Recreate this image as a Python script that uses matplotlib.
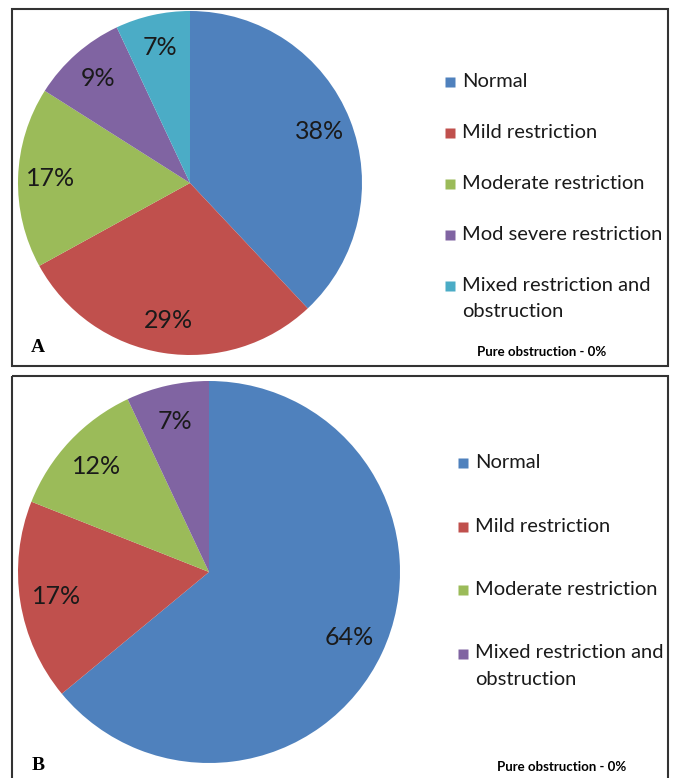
import matplotlib
matplotlib.use('Agg')
import matplotlib.pyplot as plt
from matplotlib.patches import Rectangle

# Data
labels_a = ['Normal', 'Mild restriction', 'Moderate restriction',
            'Mod severe restriction', 'Mixed restriction and\nobstruction']
values_a = [38, 29, 17, 9, 7]
colors_a = ['#4F81BD', '#C0504D', '#9BBB59', '#8064A2', '#4BACC6']

labels_b = ['Normal', 'Mild restriction', 'Moderate restriction',
            'Mixed restriction and\nobstruction']
values_b = [64, 17, 12, 7]
colors_b = ['#4F81BD', '#C0504D', '#9BBB59', '#8064A2']

note = 'Pure obstruction - 0%'

W, H = 674, 778
fig = plt.figure(figsize=(W / 100, H / 100), dpi=100)
plt.rcParams['font.family'] = ['Lato', 'DejaVu Sans']

# background axes in pixel coords for frames, legends and panel letters
bg = fig.add_axes([0, 0, 1, 1])
bg.set_xlim(0, W)
bg.set_ylim(H, 0)
bg.axis('off')
bg.add_patch(Rectangle((12, 9), 656, 357, fill=False, ec='#333333', lw=1.5))
bg.add_patch(Rectangle((12, 376), 656, 410, fill=False, ec='#333333', lw=1.5))
bg.text(38, 347, 'A', family='Liberation Serif', weight='bold', fontsize=14,
        ha='center', va='center')
bg.text(38, 765, 'B', family='Liberation Serif', weight='bold', fontsize=14,
        ha='center', va='center')
bg.text(542, 352, note, fontsize=9.5, weight='bold', ha='center', va='center')
bg.text(562, 767, note, fontsize=9.5, weight='bold', ha='center', va='center')


def pie_axes(cx, cy, r):
    return fig.add_axes([(cx - r) / W, 1 - (cy + r) / H, 2 * r / W, 2 * r / H])


def draw(ax, values, colors, labels, x0, y0, step):
    ax.pie(values, colors=colors, startangle=90, counterclock=False,
           autopct='%d%%', pctdistance=0.81, radius=1,
           textprops=dict(fontsize=18, color='#1a1a1a'))
    ax.set_xlim(-1, 1)
    ax.set_ylim(-1, 1)
    ax.set_aspect('equal')
    # legend: square swatch lined up with the first line of each label
    for i, (lab, c) in enumerate(zip(labels, colors)):
        y = y0 + i * step
        bg.plot(x0, y, marker='s', ms=7.5, color=c, mec='none')
        bg.text(x0 + 12, y - 9, lab, fontsize=14.5, color='#1a1a1a',
                ha='left', va='top', linespacing=1.65)


ax_a = pie_axes(190, 183, 172)
draw(ax_a, values_a, colors_a, labels_a, 450, 82, 51)

ax_b = pie_axes(209, 572, 191)
draw(ax_b, values_b, colors_b, labels_b, 463, 463, 63.5)

fig.savefig('out.png', dpi=100)
